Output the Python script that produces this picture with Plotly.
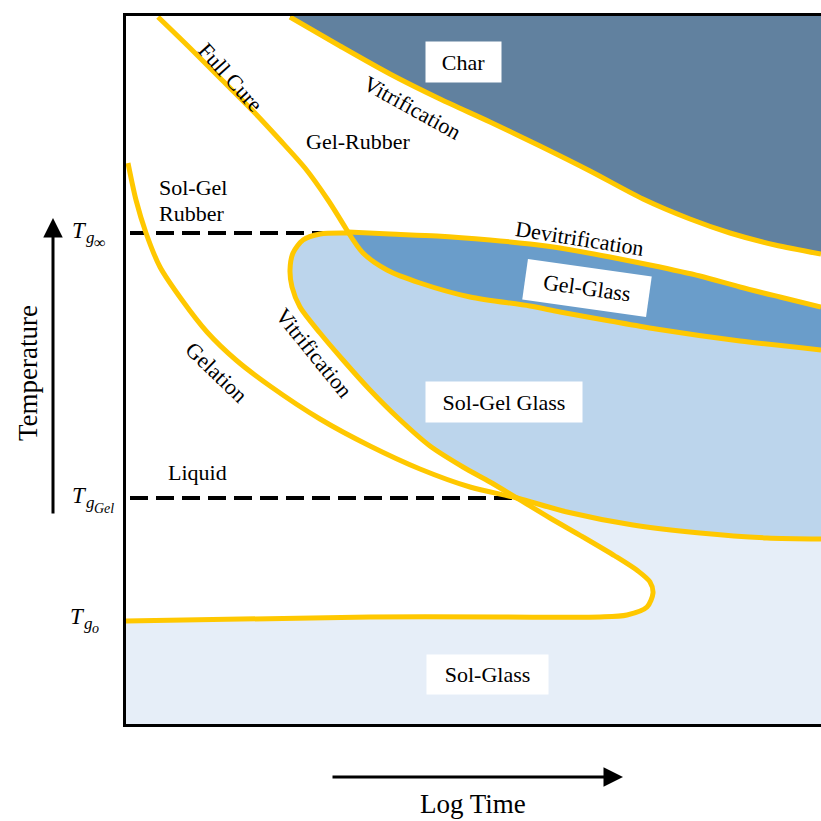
import plotly.graph_objects as go

# ---- data (x: log-time units, y: temperature units; arbitrary scale) ----
char_x = [164, 214, 264, 314, 364, 414, 464, 517, 564, 604, 649, 695]
char_y = [707, 678, 650, 625, 602, 578, 553, 525, 505, 491, 479, 470]

cure_x = [32, 64, 96, 127, 154, 179, 202, 222]
cure_y = [707, 676, 644, 613, 584, 556, 524, 492]

devit_x = [222, 264, 311, 364, 404, 434, 484, 524, 574, 614, 654, 695]
devit_y = [492, 490, 488, 484, 480, 476, 467, 459, 448, 437, 427, 417]

gelglass_x = [222, 237, 261, 294, 344, 404, 434, 484, 530, 614, 695]
gelglass_y = [492, 471, 454, 441, 427, 418, 412, 403, 395, 383, 374]

vit_x = [222, 194, 177, 167, 164, 166, 174, 194, 217, 244, 271, 304, 337, 364, 391,
         424, 457, 489, 512, 524, 527, 521, 501, 474, 374, 244, 0]
vit_y = [491, 490, 484, 471, 454, 437, 417, 391, 364, 334, 307, 278, 257, 242, 226,
         206, 187, 168, 153, 142, 131, 117, 109, 107, 107, 107, 103]
VIT_CROSS = 14  # index of gelation/vitrification crossing

gel_x = [2, 10, 20, 34, 56, 81, 110, 144, 194, 244, 294, 344, 391, 441, 507, 574, 641, 695]
gel_y = [561, 524, 491, 457, 424, 392, 364, 338, 305, 278, 255, 237, 226, 212, 199, 191, 186, 185]
GEL_CROSS = 12

tg_inf = 491
tg_gel = 226
dash_start = 4

X_MAX, Y_MAX = 695, 708
OUT = 730  # beyond the frame

YELLOW = "#ffc800"
C_CHAR = "#61819f"
C_GELGLASS = "#6a9dca"
C_SOLGELGLASS = "#bcd5ec"
C_SOLGLASS = "#e6eef8"
FONT = "Liberation Serif, Times New Roman, serif"

fig = go.Figure()


def fill(xs, ys, color):
    fig.add_trace(go.Scatter(x=xs, y=ys, mode="lines", line=dict(width=0, color=color),
                             fill="toself", fillcolor=color, hoverinfo="skip",
                             showlegend=False))


def curve(xs, ys, color=YELLOW, width=5, dash=None, shape="spline"):
    fig.add_trace(go.Scatter(x=xs, y=ys, mode="lines",
                             line=dict(width=width, color=color, dash=dash, shape=shape,
                                       smoothing=0.8 if shape == "spline" else None),
                             hoverinfo="skip", showlegend=False))


# Sol-Glass
sx = vit_x[VIT_CROSS:] + [-20, -20, OUT, OUT] + gel_x[:GEL_CROSS:-1]
sy = vit_y[VIT_CROSS:] + [vit_y[-1], -20, -20, gel_y[-1]] + gel_y[:GEL_CROSS:-1]
fill(sx, sy, C_SOLGLASS)

# Sol-Gel Glass
sgx = vit_x[:VIT_CROSS + 1] + gel_x[GEL_CROSS + 1:] + [OUT, OUT] + gelglass_x[::-1]
sgy = vit_y[:VIT_CROSS + 1] + gel_y[GEL_CROSS + 1:] + [gel_y[-1], gelglass_y[-1]] + gelglass_y[::-1]
fill(sgx, sgy, C_SOLGELGLASS)

# Gel-Glass
ggx = devit_x + [OUT, OUT] + gelglass_x[::-1]
ggy = devit_y + [devit_y[-1], gelglass_y[-1]] + gelglass_y[::-1]
fill(ggx, ggy, C_GELGLASS)

# Char
fill(char_x + [OUT, OUT, char_x[0]], char_y + [char_y[-1], OUT, OUT], C_CHAR)

# dashed Tg lines
curve([dash_start, cure_x[-1]], [tg_inf, tg_inf], color="black", width=4, dash="18px,8px", shape="linear")
curve([dash_start, vit_x[VIT_CROSS]], [tg_gel, tg_gel], color="black", width=4, dash="18px,8px", shape="linear")

# yellow boundary curves
curve(char_x, char_y)
curve(cure_x, cure_y)
curve(devit_x, devit_y)
curve(gelglass_x, gelglass_y)
curve(vit_x, vit_y)
curve(gel_x, gel_y)

ann = []


def label(x, y, text, angle=0, box=None, size=22, xanchor="center"):
    d = dict(x=x, y=y, xref="x", yref="y", text=text, showarrow=False, textangle=angle,
             font=dict(family=FONT, size=size, color="black"), xanchor=xanchor, yanchor="middle")
    if box:
        d.update(bgcolor="white", width=box[0], height=box[1], borderpad=0)
    ann.append(d)


label(337, 662, "Char", box=(75, 40))
label(286, 617, "Vitrification", angle=29)
label(105, 647, "Full Cure", angle=48)
label(232, 583, "Gel-Rubber")
label(31, 537, "Sol-Gel", xanchor="left")
label(31, 511, "Rubber", xanchor="left")
label(454, 486, "Devitrification", angle=9)
label(461, 436, "Gel-Glass", angle=8, box=(124, 40))
label(188, 372, "Vitrification", angle=51)
label(91, 352, "Gelation", angle=44)
label(378, 322, "Sol-Gel Glass", box=(156, 40))
label(71, 252, "Liquid")
label(361.5, 49.5, "Sol-Glass", box=(121, 39))


def px(v):
    return (v - 126) / X_MAX


def py(v):
    return (724 - v) / Y_MAX


def paper(xp, yp, text, size=22, angle=0, xanchor="center"):
    ann.append(dict(x=xp, y=yp, xref="paper", yref="paper", text=text, showarrow=False,
                    textangle=angle, font=dict(family=FONT, size=size, color="black"),
                    xanchor=xanchor, yanchor="middle", borderpad=0))


def math_part(left, baseline, text, size):
    # place italic glyphs by their left edge and baseline (image pixels)
    paper(px(left), py(baseline - 0.34 * size), "<i>" + text + "</i>", size=size, xanchor="left")


# T_{g_inf}
math_part(71, 238, "T", 23)
math_part(84.5, 243, "g", 17)
math_part(93, 248, "∞", 16)
# T_{g_Gel}
math_part(71, 503, "T", 23)
math_part(84.5, 508, "g", 17)
math_part(93, 513, "Gel", 14)
# T_{g_o}
math_part(69, 624, "T", 23)
math_part(82.5, 629, "g", 17)
math_part(91, 633, "o", 14)

paper(px(28), py(373), "Temperature", size=27, angle=-90)
paper(px(473), py(804), "Log Time", size=27)

# arrows
ann.append(dict(x=px(53), y=py(218), xref="paper", yref="paper", ax=0, ay=297,
                axref="pixel", ayref="pixel", showarrow=True, arrowhead=2, arrowsize=1.3,
                arrowwidth=3, arrowcolor="black", text=""))
ann.append(dict(x=px(623), y=py(777), xref="paper", yref="paper", ax=-292, ay=0,
                axref="pixel", ayref="pixel", showarrow=True, arrowhead=2, arrowsize=1.3,
                arrowwidth=3, arrowcolor="black", text=""))

fig.update_layout(
    width=821, height=821,
    margin=dict(l=126, r=0, t=16, b=97),
    plot_bgcolor="white", paper_bgcolor="white",
    showlegend=False, annotations=ann,
    xaxis=dict(range=[0, X_MAX], showgrid=False, zeroline=False, showticklabels=False,
               ticks="", showline=True, linecolor="black", linewidth=3, mirror=True,
               fixedrange=True),
    yaxis=dict(range=[0, Y_MAX], showgrid=False, zeroline=False, showticklabels=False,
               ticks="", showline=True, linecolor="black", linewidth=3, fixedrange=True),
)

fig.write_html("out.html")
